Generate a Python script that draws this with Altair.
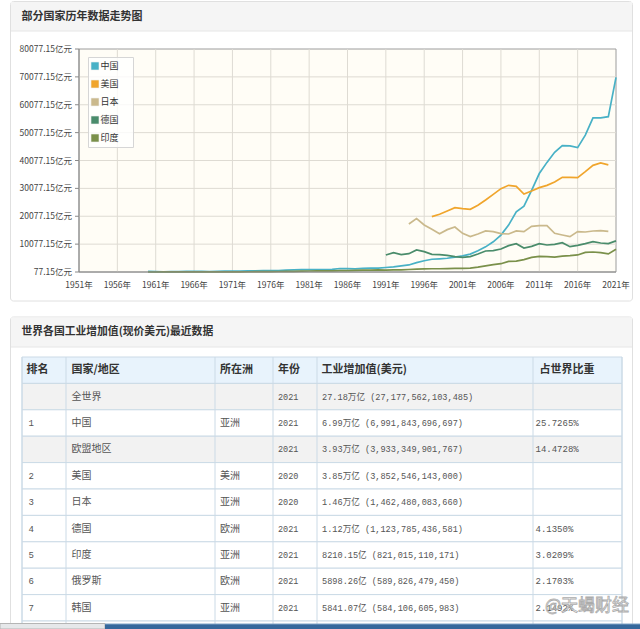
import altair as alt
import pandas as pd

CJK = "Noto Sans CJK SC"
MONO = "Liberation Mono, Noto Sans CJK SC"

# ---------------- line chart data (亿美元) ----------------
COUNTRIES = ["中国", "美国", "日本", "德国", "印度"]
COLORS = ["#48b1c6", "#f0a52c", "#cab98c", "#4a8c6b", "#7a904a"]

CN_START = 1960
CN_VALUES = [290, 200, 170, 190, 230, 270, 310, 270, 260, 310,
             380, 420, 440, 500, 520, 580, 560, 620, 720, 850,
             920, 900, 900, 960, 1000, 1330, 1300, 1190, 1400, 1500,
             1480, 1700, 1900, 2300, 2600, 3450, 4100, 4650, 4800, 5000,
             5400, 5850, 6500, 7700, 9100, 10900, 13300, 16900, 21700, 23700,
             29400, 35400, 39400, 43000, 45400, 45300, 44700, 49200, 55400, 55400,
             55800, 69918]

US_START = 1997
US_VALUES = [19930, 20770, 21960, 23160, 22800, 22560, 24000, 25910, 27940, 29980,
             31170, 30810, 28060, 29140, 30330, 31170, 32370, 34040, 34040, 33920,
             36080, 38350, 39180, 38525]

JP_START = 1994
JP_VALUES = [17300, 19220, 16940, 15390, 13830, 15270, 16220, 13950, 12760, 13710,
             14790, 14550, 13830, 13710, 14790, 14550, 16460, 16700, 16700, 13950,
             13350, 12760, 14550, 14430, 14790, 14910, 14625]

DE_START = 1991
DE_VALUES = [6180, 7010, 6300, 6660, 7970, 7370, 6420, 6300, 6060, 5580,
             5340, 5580, 6540, 7610, 7730, 8330, 9530, 10240, 8690, 9290,
             10240, 9770, 10000, 10600, 9170, 9650, 10240, 10960, 10480, 10240,
             11238]

IN_START = 1960
IN_VALUES = [80, 85, 90, 100, 115, 120, 105, 110, 115, 125,
             130, 140, 145, 170, 200, 210, 220, 250, 290, 330,
             400, 440, 460, 500, 510, 560, 600, 650, 720, 740,
             830, 780, 820, 850, 980, 1100, 1200, 1250, 1250, 1300,
             1350, 1400, 1500, 1800, 2300, 2700, 3050, 3900, 4000, 4500,
             5300, 5700, 5600, 5450, 5800, 5950, 6200, 7100, 7250, 7000,
             6550, 8210]

X_TICKS = list(range(1951, 2022, 5))
Y_TICKS = [77.15 + 10000 * i for i in range(9)]

# ---------------- table data ----------------
HEADERS = ["排名", "国家/地区", "所在洲", "年份", "工业增加值(美元)", "占世界比重"]
RANKS = ["", "1", "", "2", "3", "4", "5", "6", "7", ""]
NAMES = ["全世界", "中国", "欧盟地区", "美国", "日本", "德国", "印度", "俄罗斯", "韩国", ""]
CONTINENTS = ["", "亚洲", "", "美洲", "亚洲", "欧洲", "亚洲", "欧洲", "亚洲", ""]
TABLE_YEARS = ["2021", "2021", "2021", "2020", "2020", "2021", "2021", "2021", "2021", ""]
VALUE_TEXT = ["27.18万亿 (27,177,562,103,485)", "6.99万亿 (6,991,843,696,697)",
              "3.93万亿 (3,933,349,901,767)", "3.85万亿 (3,852,546,143,000)",
              "1.46万亿 (1,462,480,083,660)", "1.12万亿 (1,123,785,436,581)",
              "8210.15亿 (821,015,110,171)", "5898.26亿 (589,826,479,450)",
              "5841.07亿 (584,106,605,983)", ""]
SHARES = ["", "25.7265%", "14.4728%", "", "", "4.1350%", "3.0209%", "2.1703%", "2.1492%", ""]

# ---------------- build frames ----------------
recs = []
for name, start, vals in [("中国", CN_START, CN_VALUES), ("美国", US_START, US_VALUES),
                          ("日本", JP_START, JP_VALUES), ("德国", DE_START, DE_VALUES),
                          ("印度", IN_START, IN_VALUES)]:
    for i, v in enumerate(vals):
        recs.append({"country": name, "year": start + i, "value": v})
series = pd.DataFrame(recs)

one = pd.DataFrame({"k": [0]})

# layout constants
PX0, PX1, PY0, PY1 = 79, 616, 49, 272
xs = alt.Scale(domain=[1951, 2021], range=[PX0, PX1], nice=False, zero=False)
ys = alt.Scale(domain=[77.15, 80077.15], range=[PY1, PY0], nice=False, zero=False)
AXIS_C = "#8a8a8a"
GRID_C = "#dedbd3"


def box(x, x2, y, y2, **kw):
    return alt.Chart(one).mark_rect(**kw).encode(
        x=alt.value(x), x2=alt.value(x2), y=alt.value(y), y2=alt.value(y2))


def hline(x, x2, y, color, width=1):
    return alt.Chart(one).mark_rule(color=color, strokeWidth=width).encode(
        x=alt.value(x), x2=alt.value(x2), y=alt.value(y))


def vline(x, y, y2, color, width=1):
    return alt.Chart(one).mark_rule(color=color, strokeWidth=width).encode(
        x=alt.value(x), y=alt.value(y), y2=alt.value(y2))


def label(txt, x, y, **kw):
    return alt.Chart(one).mark_text(text=txt, align="left", baseline="middle", **kw).encode(
        x=alt.value(x), y=alt.value(y))


layers = []
# cards
layers.append(box(10.5, 632.5, 1.5, 301, fill="#ffffff", stroke="#e0e0e0", strokeWidth=1, cornerRadius=3))
layers.append(box(11, 632, 2, 31, fill="#f5f5f5"))
layers.append(hline(11, 632, 31, "#e6e6e6"))
layers.append(label("部分国家历年数据走势图", 21.5, 17, font=CJK, fontSize=11, fontWeight="bold", color="#333333"))
layers.append(box(10.5, 632.5, 317, 660, fill="#ffffff", stroke="#e0e0e0", strokeWidth=1, cornerRadius=3))
layers.append(box(11, 632, 317.5, 347, fill="#f5f5f5"))
layers.append(hline(11, 632, 347, "#e6e6e6"))
layers.append(label("世界各国工业增加值(现价美元)最近数据", 21.5, 332, font=CJK, fontSize=10.8, fontWeight="bold", color="#333333"))

# ---------------- line chart group ----------------
xt = pd.DataFrame({"year": X_TICKS})
yt = pd.DataFrame({"v": Y_TICKS})
plot_bg = box(PX0, PX1, PY0, PY1, fill="#fffdf6", stroke="#9c9c9c", strokeWidth=1)
vgrid = alt.Chart(pd.DataFrame({"year": X_TICKS[1:-1]})).mark_rule(color=GRID_C, strokeWidth=1).encode(
    x=alt.X("year:Q", scale=xs, axis=None), y=alt.value(PY0), y2=alt.value(PY1))
hgrid = alt.Chart(pd.DataFrame({"v": Y_TICKS[1:-1]})).mark_rule(color=GRID_C, strokeWidth=1).encode(
    y=alt.Y("v:Q", scale=ys, axis=None), x=alt.value(PX0), x2=alt.value(PX1))
x_axis_line = hline(PX0, PX1, PY1, AXIS_C)
y_axis_line = vline(PX0, PY0, PY1, AXIS_C)
y_ticks = alt.Chart(yt).mark_rule(color=AXIS_C, strokeWidth=1).encode(
    y=alt.Y("v:Q", scale=ys, axis=None), x=alt.value(PX0 - 4), x2=alt.value(PX0))
y_labels = alt.Chart(yt).transform_calculate(
    lab="format(datum.v, '.2f') + '亿元'"
).mark_text(align="right", baseline="middle", font=CJK, fontSize=8.5, color="#444444").encode(
    y=alt.Y("v:Q", scale=ys, axis=None), x=alt.value(PX0 - 7), text="lab:N")
x_labels = alt.Chart(xt).transform_calculate(
    lab="datum.year + '年'"
).mark_text(align="center", baseline="middle", font=CJK, fontSize=8.5, color="#444444").encode(
    x=alt.X("year:Q", scale=xs, axis=None), y=alt.value(PY1 + 13), text="lab:N")
lines = alt.Chart(series).mark_line(strokeWidth=1.7).encode(
    x=alt.X("year:Q", scale=xs, axis=None),
    y=alt.Y("value:Q", scale=ys, axis=None),
    color=alt.Color("country:N", scale=alt.Scale(domain=COUNTRIES, range=COLORS), legend=None),
)
layers.append(alt.layer(plot_bg, vgrid, hgrid, y_ticks, y_labels, x_labels, lines, x_axis_line, y_axis_line))

# legend
leg_df = pd.DataFrame({"country": COUNTRIES})
ly = alt.Y("country:N", scale=alt.Scale(type="point", domain=COUNTRIES, range=[66, 138], padding=0), axis=None)
leg_box = box(88.5, 133.5, 57.5, 147.5, fill="#ffffff", fillOpacity=0.8, stroke="#d6d6d6", strokeWidth=1)
leg_sw = alt.Chart(leg_df).mark_square(size=64, opacity=1, stroke="#f0f0f0", strokeWidth=0.6).encode(
    x=alt.value(95), y=ly,
    color=alt.Color("country:N", scale=alt.Scale(domain=COUNTRIES, range=COLORS), legend=None))
leg_txt = alt.Chart(leg_df).mark_text(align="left", baseline="middle", font=CJK, fontSize=9, color="#333333").encode(
    x=alt.value(100.5), y=ly, text="country:N")
layers.append(alt.layer(leg_box, leg_sw, leg_txt))

# ---------------- table group ----------------
ROW_IDS = list(range(11))
ROW_H = 26.4
T_TOP = 357
row_scale = alt.Scale(type="band", domain=ROW_IDS, range=[T_TOP, T_TOP + ROW_H * 11], paddingInner=0, paddingOuter=0)

body = pd.DataFrame({
    "row": list(range(1, 11)),
    "rank": RANKS, "name": NAMES, "cont": CONTINENTS, "year": TABLE_YEARS,
    "val": VALUE_TEXT, "share": SHARES,
})
body["kind"] = ["agg" if (r == "" and n != "") else "normal" for r, n in zip(RANKS, NAMES)]
head = pd.DataFrame({"row": [0], **{f"h{i}": [h] for i, h in enumerate(HEADERS)}})
rows_df = pd.concat([pd.DataFrame({"row": [0], "kind": ["header"]}), body[["row", "kind"]]], ignore_index=True)

ty = alt.Y("row:O", scale=row_scale, axis=None)
tlayers = []
tlayers.append(alt.Chart(rows_df).mark_rect(stroke="#cbdae6", strokeWidth=1).encode(
    y=ty, x=alt.value(22), x2=alt.value(622),
    fill=alt.Fill("kind:N", scale=alt.Scale(domain=["header", "agg", "normal"],
                                            range=["#e8f3fc", "#f2f2f2", "#ffffff"]), legend=None)))
COL_EDGES = [22, 66, 215, 273, 317, 533, 622]
for e in COL_EDGES:
    tlayers.append(vline(e, T_TOP, 629, "#cbdae6"))

HEAD_X = [26.5, 71.5, 220, 278, 321.5, 539.5]
for i, hx in enumerate(HEAD_X):
    tlayers.append(alt.Chart(head).mark_text(align="left", baseline="middle", font=CJK, fontSize=11,
                                             fontWeight="bold", color="#333333").encode(
        x=alt.value(hx), y=ty, text=f"h{i}:N"))

BODY_COLS = [("rank", 28.5, MONO, 9), ("name", 71.5, CJK, 10), ("cont", 220, CJK, 10),
             ("year", 278, MONO, 8.5), ("val", 322, MONO, 8.6), ("share", 535.5, MONO, 9)]
for field, bx, fnt, fs in BODY_COLS:
    tlayers.append(alt.Chart(body).mark_text(align="left", baseline="middle", font=fnt, fontSize=fs,
                                             color="#555555").encode(
        x=alt.value(bx), y=ty, text=f"{field}:N"))
layers.append(alt.layer(*tlayers))

# bottom strip (browser bar) and watermark
layers.append(box(0, 105, 623.5, 629, fill="#e6e8ea", stroke="#b5b5b5", strokeWidth=1))
layers.append(box(105, 640, 624, 629, fill="#36689c"))
layers.append(hline(105, 640, 624, "#7fa3c6"))
layers.append(label("@天蝎财经", 545, 606, font=CJK, fontSize=17, fill="#ffffff", stroke="#9d9d9d",
                    strokeWidth=0.8, opacity=0.85))

chart = alt.layer(*layers).resolve_scale(
    x="independent", y="independent", color="independent", fill="independent"
).properties(
    width=640, height=629, padding=0,
    autosize=alt.AutoSizeParams(type="none"), background="#ffffff"
).configure_view(stroke=None)

chart.save("out.html", embed_options={"renderer": "svg", "actions": False})
